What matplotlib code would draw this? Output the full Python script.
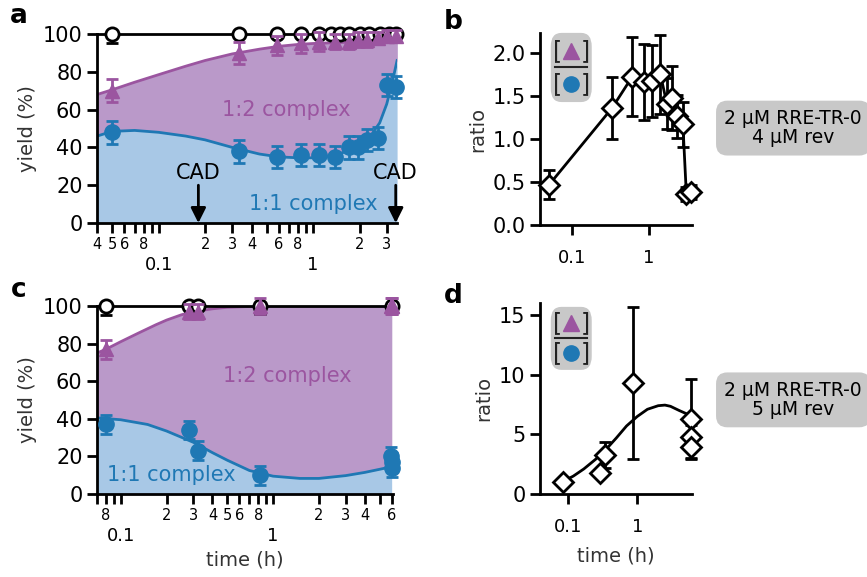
import numpy as np
import matplotlib
matplotlib.use("Agg")
from matplotlib import pyplot as plt
from matplotlib.ticker import FixedLocator, FixedFormatter, NullLocator
from matplotlib.patches import FancyBboxPatch

plt.rcParams['font.family'] = ['DejaVu Sans']

PURPLE = '#9b55a0'
PURPLE_FILL = '#ba99c9'
BLUE = '#1f78b4'
BLUE_FILL = '#a8c8e6'
GRAY = '#c8c8c8'

# ---- panel a data (2 uM RRE-TR-0, 4 uM rev) ----
a_t = [0.05, 0.33, 0.58, 0.84, 1.1, 1.38, 1.72, 1.95, 2.25, 2.62, 3.0, 3.45]
a_tri = [70, 90, 94, 95, 96, 96, 96, 97, 97, 98, 99, 99]
a_tri_err = [6, 6, 5, 5, 5, 4, 4, 4, 4, 3, 3, 3]
a_cir = [48, 38, 35, 36, 36, 35, 40, 40, 44, 45, 73, 72]
a_cir_err = [6, 6, 6, 6, 6, 6, 6, 6, 6, 6, 6, 6]
a_open_t = [0.05, 0.33, 0.58, 0.84, 1.1, 1.3, 1.5, 1.72, 2.0, 2.3, 2.7, 3.1, 3.45]
a_open = [100] * 13
a_open_err = [5, 0, 0, 0, 0, 0, 0, 0, 0, 0, 0, 0, 0]
# fitted curves
a_fit_t = [0.04, 0.05, 0.07, 0.1, 0.15, 0.2, 0.3, 0.45, 0.6, 0.8, 1.0, 1.5, 2.0, 2.5, 3.5]
a_fit_tri = [68, 70.5, 74.5, 78.5, 83, 86, 89.5, 92, 93.5, 94.5, 95, 95.5, 96, 96.2, 96.5]
a_fit_cir_t = [0.04, 0.05, 0.07, 0.1, 0.15, 0.2, 0.3, 0.45, 0.6, 0.8, 1.0, 1.3, 1.6, 2.0,
               2.4, 2.7, 3.0, 3.2, 3.35, 3.5]
a_fit_cir = [46, 48.5, 49, 48, 46, 44, 40, 36.5, 35, 34.5, 34.5, 35.5, 37.5, 41,
             47, 53, 63, 72, 79, 86]
a_cad_t = [0.181, 3.43]

# ---- panel b: ratio ----
b_t = [0.05, 0.33, 0.6, 0.85, 1.1, 1.4, 1.7, 2.0, 2.3, 2.75, 3.05, 3.5]
b_ratio = [0.47, 1.36, 1.72, 1.66, 1.67, 1.75, 1.41, 1.47, 1.26, 1.17, 0.36, 0.38]
b_err = [0.17, 0.36, 0.46, 0.44, 0.42, 0.46, 0.30, 0.37, 0.25, 0.26, 0.08, 0.08]

# ---- panel c data (2 uM RRE-TR-0, 5 uM rev) ----
c_t = [0.08, 0.28, 0.32, 0.82, 5.9, 6.0, 6.0]
c_tri = [77, 97, 97, 100, 100, 100, 100]
c_tri_err = [5, 4, 4, 4, 4, 4, 4]
c_cir = [37, 34, 23, 10, 20, 17, 14]
c_cir_err = [5, 5, 5, 5, 5, 5, 5]
c_open_t = [0.08, 0.28, 0.32, 0.82, 6.0]
c_open = [100, 100, 100, 100, 100]
c_open_err = [5, 0, 0, 4, 0]
c_fit_t = [0.07, 0.08, 0.1, 0.13, 0.17, 0.2, 0.25, 0.3, 0.4, 0.5, 0.8, 1.0, 2.0, 6.0]
c_fit_tri = [75, 77, 81, 85.5, 90, 92.5, 95.3, 97, 98.5, 99.3, 99.9, 100, 100, 100]
c_fit_cir_t = [0.07, 0.1, 0.15, 0.2, 0.3, 0.4, 0.5, 0.7, 1.0, 1.5, 2.0, 3.0, 4.0, 6.0]
c_fit_cir = [40.5, 39.5, 37, 33.5, 27.5, 22, 18, 12.5, 9.5, 8.3, 8.3, 9.8, 11.5, 14.5]

# ---- panel d: ratio ----
d_t = [0.085, 0.29, 0.34, 0.86, 6.0, 6.0, 6.0]
d_ratio = [1.0, 1.8, 3.3, 9.3, 6.3, 4.8, 3.9]
d_err = [0.3, 0.3, 1.1, 6.4, 3.3, 1.0, 1.0]
d_fit_t = [0.085, 0.12, 0.17, 0.25, 0.35, 0.5, 0.7, 1.0, 1.4, 2.0, 2.5, 3.0, 4.0, 5.0, 6.0]
d_fit = [1.05, 1.5, 2.1, 2.9, 3.7, 4.7, 5.7, 6.5, 7.1, 7.4, 7.45, 7.35, 7.0, 6.75, 6.55]


def style(ax):
    for s in ['top', 'right']:
        ax.spines[s].set_visible(False)
    for s in ['left', 'bottom']:
        ax.spines[s].set_linewidth(2)
    ax.tick_params(which='both', direction='out', length=7, width=2, color='black')


def log_ticks(ax, minor, minor_lab, major_pad=17):
    ax.xaxis.set_major_locator(FixedLocator([0.1, 1]))
    ax.xaxis.set_major_formatter(FixedFormatter(['0.1', '1']))
    ax.xaxis.set_minor_locator(FixedLocator(minor))
    ax.xaxis.set_minor_formatter(FixedFormatter(minor_lab))
    ax.tick_params(axis='x', which='minor', labelsize=10.5, pad=3)
    ax.tick_params(axis='x', which='major', labelsize=13, pad=major_pad)


def yield_panel(ax, fit_t, fit_tri, fit_cir_t, fit_cir, t, tri, tri_err, cir, cir_err,
                open_t, open_y, open_err, xlim):
    cir_on_tri = np.interp(np.log(fit_t), np.log(fit_cir_t), fit_cir)
    ax.fill_between(fit_cir_t, 0, fit_cir, color=BLUE_FILL, lw=0, zorder=1)
    ax.fill_between(fit_t, cir_on_tri, fit_tri, color=PURPLE_FILL, lw=0, zorder=1)
    # fill the purple region where the blue curve is sampled more finely
    tri_on_cir = np.interp(np.log(fit_cir_t), np.log(fit_t), fit_tri)
    ax.fill_between(fit_cir_t, fit_cir, tri_on_cir, color=PURPLE_FILL, lw=0, zorder=1)
    ax.plot(fit_t, fit_tri, color=PURPLE, lw=2, zorder=2)
    ax.plot(fit_cir_t, fit_cir, color=BLUE, lw=2, zorder=2)
    ax.plot(xlim, [100, 100], color='black', lw=2, zorder=2, clip_on=False)
    ax.errorbar(t, cir, yerr=cir_err, fmt='o', color=BLUE, ms=11, capsize=4.5,
                elinewidth=2, capthick=2, zorder=4, clip_on=False)
    ax.errorbar(t, tri, yerr=tri_err, fmt='^', color=PURPLE, ms=10, capsize=4.5,
                elinewidth=2, capthick=2, zorder=5, clip_on=False)
    ax.errorbar(open_t, open_y, yerr=[open_err, [0] * len(open_err)], fmt='o',
                mfc='white', mec='black', mew=2, color='black', ms=9.5, capsize=4.5,
                elinewidth=2, capthick=2, zorder=3, clip_on=False)
    ax.set_xscale('log')
    ax.set_xlim(*xlim)
    ax.set_ylim(0, 100)
    ax.set_yticks([0, 20, 40, 60, 80, 100])
    ax.tick_params(axis='y', labelsize=15)
    ax.set_ylabel('yield (%)', fontsize=14, color='#333333')
    style(ax)


def ratio_box(ax, y0, y1):
    box = FancyBboxPatch((0.07, y0), 0.27, y1 - y0, transform=ax.transAxes,
                         boxstyle='round,pad=0,rounding_size=0.07', fc=GRAY, ec='none',
                         clip_on=False, zorder=6)
    ax.add_patch(box)
    ym = (y0 + y1) / 2
    top = ym + (y1 - y0) * 0.24
    bot = ym - (y1 - y0) * 0.24
    for yy, mk, col in [(top, '^', PURPLE), (bot, 'o', BLUE)]:
        for xb, br in [(0.115, '['), (0.295, ']')]:
            ax.text(xb, yy, br, transform=ax.transAxes, ha='center', va='center',
                    fontsize=17, color='#222222', zorder=7)
        ax.plot([0.205], [yy], marker=mk, color=col, ms=11, transform=ax.transAxes,
                clip_on=False, zorder=7, ls='none')
    ax.plot([0.1, 0.31], [ym, ym], color='#222222', lw=1.5, transform=ax.transAxes,
            clip_on=False, zorder=7)


fig = plt.figure(figsize=(8.67, 5.77), dpi=100)

# ---- a ----
ax = fig.add_axes([0.112, 0.6135, 0.346, 0.3275])
yield_panel(ax, a_fit_t, a_fit_tri, a_fit_cir_t, a_fit_cir, a_t, a_tri, a_tri_err,
            a_cir, a_cir_err, a_open_t, a_open, a_open_err, (0.04, 3.5))
log_ticks(ax, [0.04, 0.05, 0.06, 0.07, 0.08, 0.09, 0.2, 0.3, 0.4, 0.5, 0.6, 0.7, 0.8, 0.9, 2, 3],
          ['4', '5', '6', '', '8', '', '2', '3', '4', '', '6', '', '8', '', '2', '3'])
for xc in a_cad_t:
    ax.annotate('', xy=(xc, 0), xytext=(xc, 20),
                arrowprops=dict(arrowstyle='-|>,head_width=0.45,head_length=0.9',
                                color='black', lw=2, shrinkA=0, shrinkB=0), zorder=6)
    ax.text(xc, 21, 'CAD', ha='center', va='bottom', fontsize=15, color='black', zorder=6)
ax.text(0.63, 0.6, '1:2 complex', transform=ax.transAxes, ha='center', va='center',
        fontsize=15, color=PURPLE, zorder=6)
ax.text(0.72, 0.1, '1:1 complex', transform=ax.transAxes, ha='center', va='center',
        fontsize=15, color=BLUE, zorder=6)
fig.text(0.022, 0.972, 'a', fontsize=19, fontweight='bold', va='center', ha='center')

# ---- b ----
ax = fig.add_axes([0.623, 0.610, 0.175, 0.333])
ax.plot(b_t, b_ratio, color='black', lw=2, zorder=2)
ax.errorbar(b_t, b_ratio, yerr=b_err, fmt='D', mfc='white', mec='black', mew=2,
            color='black', ms=10, capsize=4.5, elinewidth=2, capthick=2, zorder=3,
            clip_on=False)
ax.set_xscale('log')
ax.set_xlim(0.038, 3.6)
ax.set_ylim(0, 2.23)
ax.set_yticks([0, 0.5, 1.0, 1.5, 2.0])
ax.set_yticklabels(['0.0', '0.5', '1.0', '1.5', '2.0'])
ax.xaxis.set_major_locator(FixedLocator([0.1, 1]))
ax.xaxis.set_major_formatter(FixedFormatter(['0.1', '1']))
ax.xaxis.set_minor_locator(NullLocator())
ax.tick_params(axis='y', labelsize=15)
ax.tick_params(axis='x', labelsize=13, pad=10)
ax.set_ylabel('ratio', fontsize=14, color='#333333')
style(ax)
ratio_box(ax, 0.64, 1.0)
fig.text(0.915, 0.778, '2 \u00b5M RRE-TR-0\n4 \u00b5M rev', ha='center', va='center',
         fontsize=13.5, linespacing=1.0,
         bbox=dict(boxstyle='round,pad=0.45,rounding_size=0.6', fc=GRAY, ec='none'))
fig.text(0.523, 0.962, 'b', fontsize=19, fontweight='bold', va='center', ha='center')

# ---- c ----
ax = fig.add_axes([0.112, 0.1438, 0.341, 0.3259])
yield_panel(ax, c_fit_t, c_fit_tri, c_fit_cir_t, c_fit_cir, c_t, c_tri, c_tri_err,
            c_cir, c_cir_err, c_open_t, c_open, c_open_err, (0.07, 6.1))
log_ticks(ax, [0.07, 0.08, 0.09, 0.2, 0.3, 0.4, 0.5, 0.6, 0.7, 0.8, 0.9, 2, 3, 4, 5, 6],
          ['', '8', '', '2', '3', '4', '5', '6', '', '8', '', '2', '3', '4', '', '6'])
ax.set_xlabel('time (h)', fontsize=14, color='#333333', labelpad=4)
ax.text(0.645, 0.63, '1:2 complex', transform=ax.transAxes, ha='center', va='center',
        fontsize=15, color=PURPLE, zorder=6)
ax.text(0.25, 0.1, '1:1 complex', transform=ax.transAxes, ha='center', va='center',
        fontsize=15, color=BLUE, zorder=6)
fig.text(0.022, 0.497, 'c', fontsize=19, fontweight='bold', va='center', ha='center')

# ---- d ----
ax = fig.add_axes([0.623, 0.1438, 0.175, 0.331])
ax.plot(d_fit_t, d_fit, color='black', lw=2, zorder=2)
ax.errorbar(d_t, d_ratio, yerr=d_err, fmt='D', mfc='white', mec='black', mew=2,
            color='black', ms=10, capsize=4.5, elinewidth=2, capthick=2, zorder=3,
            clip_on=False)
ax.set_xscale('log')
ax.set_xlim(0.04, 6.1)
ax.set_ylim(0, 16)
ax.set_yticks([0, 5, 10, 15])
ax.xaxis.set_major_locator(FixedLocator([0.1, 1]))
ax.xaxis.set_major_formatter(FixedFormatter(['0.1', '1']))
ax.xaxis.set_minor_locator(NullLocator())
ax.tick_params(axis='y', labelsize=15)
ax.tick_params(axis='x', labelsize=13, pad=10)
ax.set_ylabel('ratio', fontsize=14, color='#333333')
ax.set_xlabel('time (h)', fontsize=14, color='#333333', labelpad=8)
style(ax)
ratio_box(ax, 0.65, 0.98)
fig.text(0.915, 0.307, '2 \u00b5M RRE-TR-0\n5 \u00b5M rev', ha='center', va='center',
         fontsize=13.5, linespacing=1.0,
         bbox=dict(boxstyle='round,pad=0.45,rounding_size=0.6', fc=GRAY, ec='none'))
fig.text(0.523, 0.487, 'd', fontsize=19, fontweight='bold', va='center', ha='center')

fig.savefig('out.png', dpi=100)
